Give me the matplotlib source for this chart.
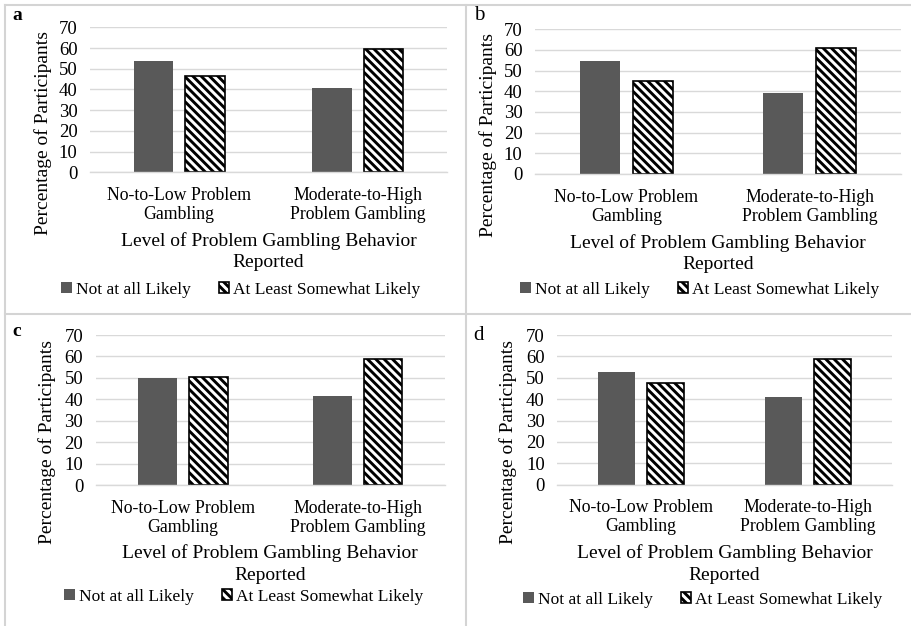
import matplotlib
matplotlib.use("Agg")
import matplotlib.pyplot as plt
from matplotlib.lines import Line2D
import numpy as np

plt.rcParams['font.family'] = ['Liberation Serif', 'DejaVu Serif']
plt.rcParams['hatch.linewidth'] = 2.1
plt.rcParams['hatch.color'] = 'black'

W, H = 911, 626

categories = ["No-to-Low Problem\nGambling", "Moderate-to-High\nProblem Gambling"]
series_names = ["Not at all Likely", "At Least Somewhat Likely"]
panel_letters = ["a", "b", "c", "d"]
yticks = [0, 10, 20, 30, 40, 50, 60, 70]

not_likely_a = [53.6, 40.6]
somewhat_a = [46.4, 59.4]
not_likely_b = [54.8, 39.1]
somewhat_b = [45.2, 60.9]
not_likely_c = [49.8, 41.4]
somewhat_c = [50.2, 58.6]
not_likely_d = [52.5, 41.0]
somewhat_d = [47.5, 59.0]

panel_data = [
    (not_likely_a, somewhat_a),
    (not_likely_b, somewhat_b),
    (not_likely_c, somewhat_c),
    (not_likely_d, somewhat_d),
]

# layout in pixels: (left, right, top, bottom)
axes_px = [
    (90, 447, 27.3, 172.3),
    (535, 901, 29.3, 174),
    (95.7, 445, 335, 485),
    (557.3, 891.7, 335, 484.7),
]
ylabel_pos = [(43, 133), (488, 135), (47, 442), (508, 442)]
xtitle_y = [251.5, 253.5, 564, 564]
legend_y = [290, 290, 597, 600]
legend_cx = [241, 700, 244, 703]
letter_pos = [(17, 15, 'bold', 14), (479, 15, 'normal', 15), (17, 332, 'bold', 14), (479, 335, 'normal', 15)]

FS_YTICK = 13.5
FS_XTICK = 12.8
FS_TITLE = 14
FS_LEG = 12.5

fig = plt.figure(figsize=(W / 100, H / 100), dpi=100)

def fx(x):
    return x / W

def fy(y):
    return 1 - y / H

# panel frame lines
line_col = '#d4d4d4'
for (x0, y0, x1, y1) in [(5, 5, 910, 5), (5, 5, 5, 626), (5, 314, 910, 314), (466, 5, 466, 626)]:
    fig.add_artist(Line2D([fx(x0), fx(x1)], [fy(y0), fy(y1)], color=line_col, lw=1.5,
                          transform=fig.transFigure))

width = 0.222
offset = 0.145
x = np.arange(len(categories))

for i, (nl, sw) in enumerate(panel_data):
    l, r, t, b = axes_px[i]
    ax = fig.add_axes([fx(l), fy(b), fx(r) - fx(l), fy(t) - fy(b)])
    ax.set_axisbelow(True)
    ax.yaxis.grid(True, color='#d9d9d9', lw=1.0)
    b1 = ax.bar(x - offset, nl, width, color='#595959', edgecolor='none', label=series_names[0])
    b2 = ax.bar(x + offset, sw, width, facecolor='white', edgecolor='black', hatch='\\\\\\\\',
                lw=1.2, label=series_names[1])
    ax.set_xlim(-0.5, 1.5)
    ax.set_ylim(0, 70)
    ax.set_yticks(yticks)
    ax.set_yticklabels([str(v) for v in yticks], fontsize=FS_YTICK)
    ax.set_xticks(x)
    ax.set_xticklabels(categories, fontsize=FS_XTICK, linespacing=1.15)
    ax.tick_params(axis='both', length=0)
    ax.tick_params(axis='y', pad=9)
    ax.tick_params(axis='x', pad=10.5)
    for s in ['top', 'right', 'left']:
        ax.spines[s].set_visible(False)
    ax.spines['bottom'].set_color('#d9d9d9')
    ax.spines['bottom'].set_linewidth(1.0)

    fig.text(fx(ylabel_pos[i][0]), fy(ylabel_pos[i][1]), "Percentage of Participants",
             rotation=90, ha='center', va='center', fontsize=FS_TITLE)
    fig.text(fx((l + r) / 2), fy(xtitle_y[i]), "Level of Problem Gambling Behavior\nReported",
             ha='center', va='center', fontsize=FS_TITLE, linespacing=1.32, multialignment='center')
    fig.legend(handles=[b1, b2], labels=series_names, loc='center',
               bbox_to_anchor=(fx(legend_cx[i]), fy(legend_y[i])), ncol=2, frameon=False,
               fontsize=FS_LEG, handlelength=0.6, handleheight=0.6, handletextpad=0.25,
               columnspacing=1.6, borderpad=0, borderaxespad=0)
    lx, ly, wt, sz = letter_pos[i]
    fig.text(fx(lx), fy(ly), panel_letters[i], ha='center', va='center', fontsize=sz, fontweight=wt)

fig.savefig("out.png", dpi=100)
